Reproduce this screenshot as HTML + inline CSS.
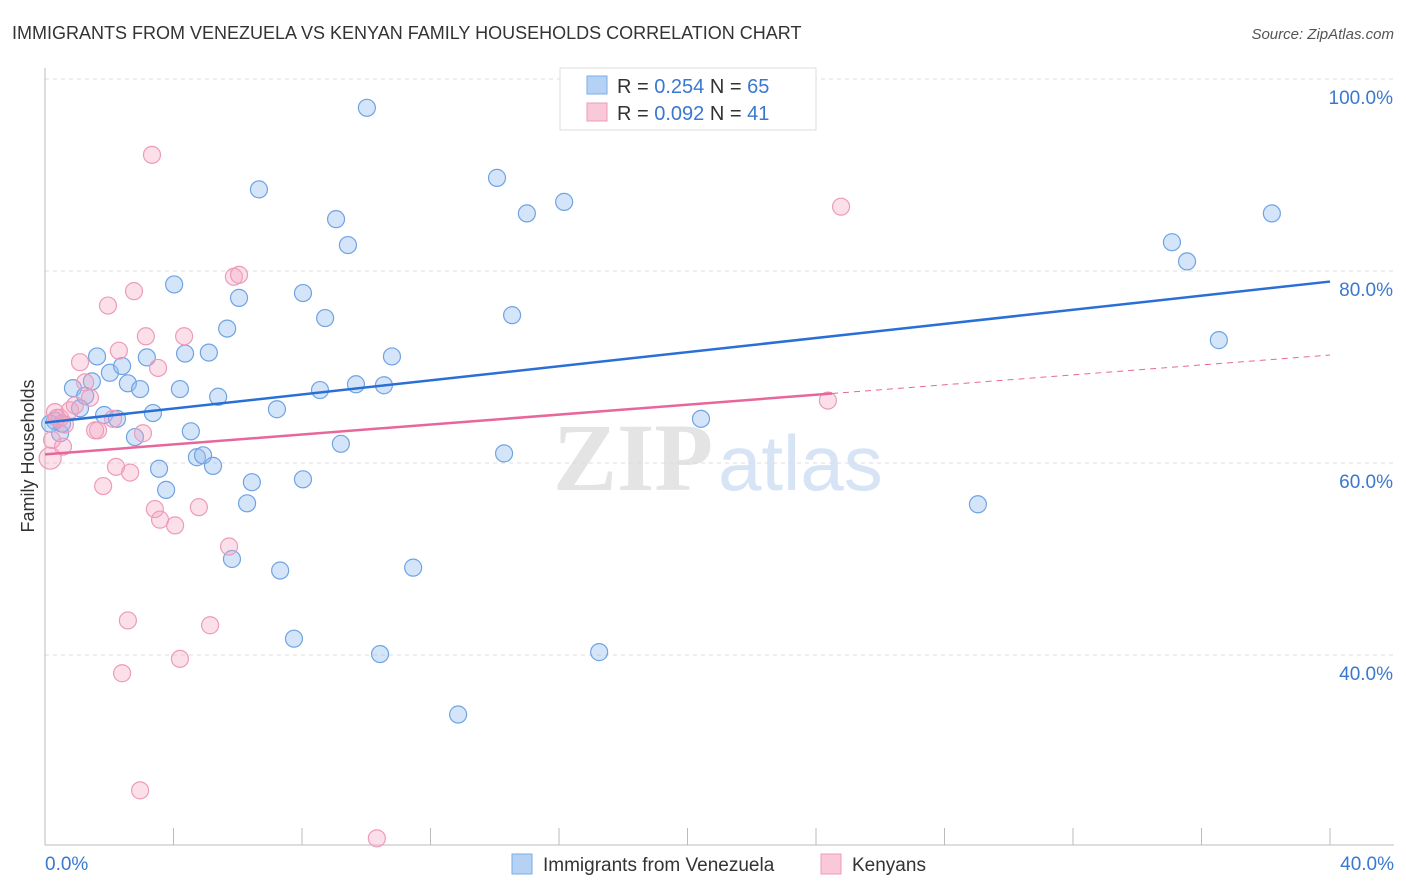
<!DOCTYPE html>
<html><head><meta charset="utf-8"><style>
body{margin:0;background:#fff;font-family:"Liberation Sans",sans-serif;}
svg{display:block}
</style></head><body>
<svg id="chart" width="1406" height="892">
<text x="12" y="39" font-size="18" fill="#333">IMMIGRANTS FROM VENEZUELA VS KENYAN FAMILY HOUSEHOLDS CORRELATION CHART</text>
<text x="1394" y="39" font-size="15" fill="#555" font-style="italic" text-anchor="end">Source: ZipAtlas.com</text>
<g>
<text x="553" y="490" font-size="96" fill="#e4e4e4" font-family="Liberation Serif,serif" font-weight="bold">ZIP</text>
<text x="718" y="490" font-size="78" fill="#d6e4f5">atlas</text>
</g>
<g id="grid"></g>
<g id="axes"></g>
<g id="points"></g>
<g id="trends"></g>
<text transform="translate(34,456) rotate(-90)" font-size="18" fill="#333" text-anchor="middle">Family Households</text>
<g>
<rect x="560" y="68" width="256" height="62" fill="#fff" stroke="#ddd"/>
<rect x="587" y="76" width="20" height="18" fill="#b5d2f5" stroke="#7aaee6"/>
<rect x="587" y="103" width="20" height="18" fill="#f9c9da" stroke="#ee9bbb"/>
<text x="617" y="93" font-size="20" fill="#333">R = <tspan fill="#3a78d0">0.254</tspan>   N = <tspan fill="#3a78d0">65</tspan></text>
<text x="617" y="120" font-size="20" fill="#333">R = <tspan fill="#3a78d0">0.092</tspan>   N = <tspan fill="#3a78d0"> 41</tspan></text>
</g>
<g>
<rect x="512" y="854" width="20" height="20" fill="#b5d2f5" stroke="#7aaee6"/>
<text x="543" y="871" font-size="19" fill="#333">Immigrants from Venezuela</text>
<rect x="821" y="854" width="20" height="20" fill="#f9c9da" stroke="#ee9bbb"/>
<text x="852" y="871" font-size="19" fill="#333">Kenyans</text>
</g>
</svg>
<script>
const xTicks=[0,4,8,12,16,20,24,28,32,36,40];
const yTicks=[40,60,80,100];
const yTickLabels=["40.0%","60.0%","80.0%","100.0%"];
const blueX=[0.31,0.47,0.53,0.87,1.09,1.25,1.46,1.62,1.84,2.02,2.24,2.40,2.58,2.80,2.96,3.17,3.36,3.55,3.77,4.02,4.20,4.36,4.54,4.73,4.92,5.10,5.23,5.39,5.67,5.82,6.04,6.29,6.44,6.66,7.22,7.32,7.75,8.03,8.03,8.56,8.72,9.06,9.21,9.43,9.68,10.02,10.43,10.55,10.80,11.46,12.86,14.07,14.29,14.54,15.00,16.16,17.25,20.42,21.95,29.04,35.08,35.55,36.54,38.19,0.16];
const blueY=[64.4,63.1,64.1,67.8,65.7,67.0,68.5,71.1,65.0,69.4,64.6,70.1,68.3,62.7,67.7,71.0,65.2,59.4,57.2,78.6,67.7,71.4,63.3,60.6,60.8,71.5,59.7,66.9,74.0,50.0,77.2,55.8,58.0,88.5,65.6,48.8,41.7,77.7,58.3,67.6,75.1,85.4,62.0,82.7,68.2,97.0,40.1,68.1,71.1,49.1,33.8,89.7,61.0,75.4,86.0,87.2,40.3,64.6,99.9,55.7,83.0,81.0,72.8,86.0,64.1];
const pinkX=[0.16,0.22,0.31,0.47,0.56,0.78,1.09,1.25,1.40,1.65,1.81,1.96,2.12,2.21,2.30,2.40,2.58,2.65,2.77,2.96,3.05,3.14,3.33,3.42,3.52,3.58,4.05,4.20,4.33,4.79,5.14,5.73,5.88,6.04,10.33,24.37,24.78,1.56,0.37,0.93,0.62];
const pinkY=[60.5,62.4,65.3,64.7,61.7,65.5,70.5,68.4,66.8,63.4,57.6,76.4,64.6,59.6,71.7,38.1,43.6,59.0,77.9,25.9,63.1,73.2,92.1,55.2,69.9,54.1,53.5,39.6,73.2,55.4,43.1,51.3,79.4,79.6,20.9,66.5,86.7,63.4,64.7,66.0,64.0];
const blueTrend=[64.2,78.9];
const pinkTrend=[60.9,71.25];
const pinkSolidEnd=24.5;

const NS="http://www.w3.org/2000/svg";
const X=v=>45+v*(1285/40);
const Y=v=>79+(100-v)*9.6;
function mk(tag,attrs,parent){const e=document.createElementNS(NS,tag);for(const k in attrs)e.setAttribute(k,attrs[k]);document.getElementById(parent).appendChild(e);return e;}
yTicks.forEach((t,i)=>{
 const l=mk('line',{x1:45,x2:1394,y1:Y(t),y2:Y(t),stroke:'#ddd','stroke-dasharray':'4,4'},'grid');
 
 
 const tx=mk('text',{x:1393,y:Y(t)+25,'font-size':19,fill:'#3a78d0','text-anchor':'end'},'grid');
 tx.textContent=yTickLabels[i];
 
 
});
const ax=mk('line',{x1:45,x2:45,y1:68,y2:845,stroke:'#bbb'},'axes');


const bx=mk('line',{x1:45,x2:1394,y1:845,y2:845,stroke:'#bbb'},'axes');


xTicks.forEach(t=>{
 const l=mk('line',{x1:X(t),x2:X(t),y1:828,y2:845,stroke:'#bbb'},'axes');
 
 
});
const xl0=mk('text',{x:45,y:870,'font-size':19,fill:'#3a78d0'},'axes');xl0.textContent=xTicks[0].toFixed(1)+'%';


const xl1=mk('text',{x:1394,y:870,'font-size':19,fill:'#3a78d0','text-anchor':'end'},'axes');xl1.textContent=xTicks[xTicks.length-1].toFixed(1)+'%';


blueX.forEach((v,i)=>{
 const c=mk('circle',{cx:X(v),cy:Y(blueY[i]),r:8.5,fill:'rgba(150,190,240,0.4)',stroke:'#6fa3e3','stroke-width':1.2},'points');
 
 
});
pinkX.forEach((v,i)=>{
 const c=mk('circle',{cx:X(v),cy:Y(pinkY[i]),r:i==0?11:8.5,fill:'rgba(244,165,195,0.35)',stroke:'#ee9bbb','stroke-width':1.2},'points');
 
 
});
const bl=mk('line',{x1:X(0),y1:Y(blueTrend[0]),x2:X(40),y2:Y(blueTrend[1]),stroke:'#2a6fd6','stroke-width':2.5},'trends');


const pm=pinkTrend[0]+(pinkTrend[1]-pinkTrend[0])*pinkSolidEnd/40;
const pl=mk('line',{x1:X(0),y1:Y(pinkTrend[0]),x2:X(pinkSolidEnd),y2:Y(pm),stroke:'#e8679a','stroke-width':2.5},'trends');


const pd=mk('line',{x1:X(pinkSolidEnd),y1:Y(pm),x2:X(40),y2:Y(pinkTrend[1]),stroke:'#e8679a','stroke-width':1,'stroke-dasharray':'6,5'},'trends');


</script>
</body></html>
